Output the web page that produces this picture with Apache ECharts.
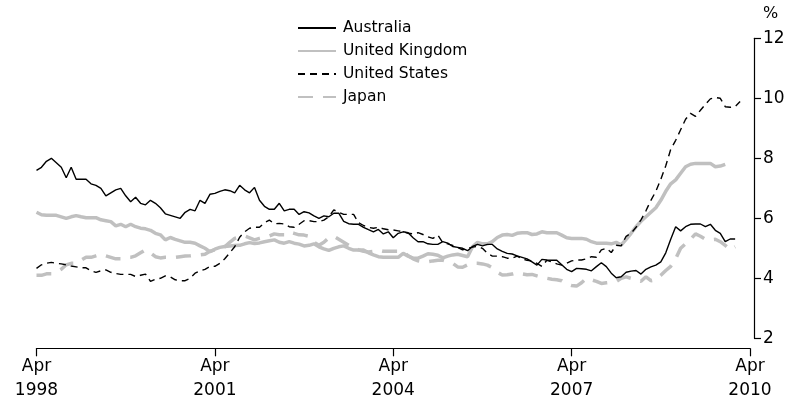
<!DOCTYPE html>
<html>
<head>
<meta charset="utf-8">
<script src="https://cdn.jsdelivr.net/npm/echarts@6/dist/echarts.min.js"></script>
<style>
  html, body { margin: 0; padding: 0; background: #fff; }
  #chart { width: 796px; height: 407px; }
</style>
</head>
<body>
<div id="chart"></div>
<script>
// Monthly unemployment rates (%), first value = April 1998
const australia = [
  7.6, 7.7, 7.9, 8.0, 7.85, 7.7, 7.35, 7.7, 7.3, 7.3, 7.3, 7.15, 7.1, 7.0, 6.75, 6.85,
  6.95, 7.0, 6.75, 6.55, 6.7, 6.5, 6.45, 6.6, 6.5, 6.35, 6.15, 6.1, 6.05, 6.0, 6.2, 6.3,
  6.25, 6.6, 6.5, 6.8, 6.83, 6.9, 6.95, 6.92, 6.85, 7.1, 6.95, 6.85, 7.03, 6.6, 6.4, 6.3,
  6.3, 6.5, 6.25, 6.3, 6.3, 6.13, 6.22, 6.18, 6.08, 6.0, 6.08, 6.05, 6.17, 6.17, 5.9, 5.82,
  5.8, 5.8, 5.7, 5.62, 5.55, 5.63, 5.48, 5.55, 5.35, 5.5, 5.55, 5.52, 5.35, 5.22, 5.22, 5.15,
  5.13, 5.13, 5.22, 5.17, 5.06, 5.03, 5.0, 4.92, 5.06, 5.13, 5.08, 5.13, 5.13, 4.98, 4.9, 4.83,
  4.81, 4.75, 4.7, 4.65, 4.55, 4.44, 4.63, 4.61, 4.6, 4.6, 4.45, 4.3, 4.22, 4.33, 4.32, 4.3,
  4.25, 4.39, 4.52, 4.39, 4.17, 4.02, 4.05, 4.2, 4.24, 4.26, 4.14, 4.3, 4.38, 4.44, 4.55, 4.85,
  5.3, 5.72, 5.58, 5.72, 5.8, 5.81, 5.81, 5.72, 5.8, 5.6, 5.5, 5.22, 5.31, 5.31
];
const unitedKingdom = [
  6.2, 6.12, 6.1, 6.1, 6.1, 6.05, 6.0, 6.05, 6.09, 6.05, 6.02, 6.02, 6.02, 5.95, 5.92, 5.89,
  5.75, 5.8, 5.72, 5.8, 5.72, 5.67, 5.65, 5.6, 5.5, 5.45, 5.28, 5.36, 5.3, 5.25, 5.2, 5.2,
  5.17, 5.08, 5.0, 4.89, 4.97, 5.03, 5.06, 5.08, 5.09, 5.1, 5.15, 5.19, 5.16, 5.18, 5.22, 5.25,
  5.28, 5.2, 5.17, 5.22, 5.17, 5.14, 5.08, 5.1, 5.15, 5.05, 4.98, 4.93, 5.0, 5.05, 5.08, 5.0,
  4.94, 4.94, 4.94, 4.85, 4.78, 4.72, 4.7, 4.7, 4.7, 4.7, 4.83, 4.74, 4.67, 4.67, 4.74, 4.82,
  4.8, 4.77, 4.68, 4.74, 4.78, 4.8, 4.76, 4.72, 5.05, 5.2, 5.15, 5.15, 5.22, 5.36, 5.44, 5.46,
  5.43, 5.5, 5.52, 5.52, 5.46, 5.48, 5.55, 5.52, 5.52, 5.52, 5.44, 5.35, 5.33, 5.33, 5.33, 5.3,
  5.22, 5.17, 5.17, 5.17, 5.15, 5.2, 5.11, 5.3, 5.5, 5.72, 5.9, 6.05, 6.2, 6.35, 6.6, 6.9,
  7.15, 7.28, 7.5, 7.72, 7.8, 7.83, 7.83, 7.83, 7.83, 7.72, 7.74, 7.8
];
const unitedStates = [
  4.33, 4.45, 4.5, 4.53, 4.5, 4.48, 4.45, 4.41, 4.38, 4.35, 4.35, 4.25, 4.2, 4.25, 4.28, 4.2,
  4.16, 4.13, 4.13, 4.13, 4.06, 4.1, 4.14, 3.9, 3.97, 4.0, 4.08, 4.05, 3.95, 3.92, 3.92, 4.0,
  4.17, 4.25, 4.3, 4.39, 4.4, 4.5, 4.65, 4.85, 5.05, 5.37, 5.55, 5.67, 5.7, 5.7, 5.85, 5.94,
  5.82, 5.83, 5.81, 5.72, 5.7, 5.8, 5.92, 5.92, 5.89, 5.89, 5.94, 6.05, 6.28, 6.2, 6.13, 6.13,
  6.13, 5.85, 5.76, 5.7, 5.67, 5.7, 5.65, 5.62, 5.61, 5.58, 5.55, 5.5, 5.48, 5.52, 5.46, 5.38,
  5.33, 5.44, 5.19, 5.15, 5.1, 5.03, 4.95, 5.0, 5.04, 5.06, 5.0, 4.83, 4.74, 4.74, 4.72, 4.67,
  4.67, 4.74, 4.65, 4.6, 4.58, 4.5, 4.4, 4.6, 4.55, 4.48, 4.44, 4.5, 4.58, 4.61, 4.61, 4.65,
  4.72, 4.7, 4.95, 5.0, 4.86, 5.1, 5.08, 5.4, 5.5, 5.7, 5.95, 6.25, 6.6, 6.9, 7.3, 7.75,
  8.3, 8.6, 8.95, 9.3, 9.5, 9.4, 9.6, 9.8, 9.98, 10.03, 10.0, 9.72, 9.7, 9.72, 9.89
];
const japan = [
  4.1, 4.1, 4.15, 4.15, 4.2, 4.3, 4.45, 4.5, 4.5, 4.6, 4.7, 4.7, 4.75, 4.8, 4.75, 4.7,
  4.65, 4.65, 4.7, 4.7, 4.75, 4.85, 4.95, 4.85, 4.72, 4.68, 4.7, 4.7, 4.7, 4.72, 4.74, 4.75,
  4.78, 4.78, 4.8, 4.9, 4.95, 5.0, 5.05, 5.2, 5.33, 5.38, 5.41, 5.35, 5.28, 5.33, 5.37, 5.41,
  5.48, 5.45, 5.45, 5.55, 5.5, 5.45, 5.44, 5.4, 5.2, 5.1, 5.2, 5.35, 5.4, 5.3, 5.2, 5.1,
  5.0, 4.95, 4.9, 4.88, 4.9, 4.94, 4.9, 4.9, 4.9, 4.9, 4.89, 4.75, 4.65, 4.58, 4.55, 4.55,
  4.58, 4.6, 4.6, 4.55, 4.5, 4.38, 4.37, 4.45, 4.5, 4.5, 4.48, 4.44, 4.35, 4.2, 4.11, 4.12,
  4.14, 4.19, 4.15, 4.12, 4.13, 4.08, 4.03, 4.0, 3.97, 3.95, 3.92, 3.81, 3.76, 3.74, 3.85, 4.0,
  3.95, 3.9, 3.83, 3.85, 3.87, 3.89, 4.0, 4.05, 4.0, 3.95, 3.9, 4.05, 3.92, 3.95, 4.1, 4.26,
  4.4, 4.65, 5.0, 5.15, 5.3, 5.48, 5.4, 5.3, 5.28, 5.3, 5.22, 5.1, 4.95, 5.05
];

// x-axis: months since April 1998, labelled every three years
const tickMonths = [0, 36, 72, 108, 144];
const tickLabels = ['Apr\n1998', 'Apr\n2001', 'Apr\n2004', 'Apr\n2007', 'Apr\n2010'];
const yTicks = [2, 4, 6, 8, 10, 12];

const FONT = 'DejaVu Sans';
const GREY = '#c0c0c0';

const toPoints = arr => arr.map((v, i) => [i, v]);

const chart = echarts.init(document.getElementById('chart'), null, { renderer: 'canvas' });

chart.setOption({
  animation: false,
  backgroundColor: '#ffffff',
  textStyle: { fontFamily: FONT, color: '#000' },
  grid: { left: 36.5, right: 46, top: 38.3, bottom: 68.7, containLabel: false },
  legend: {
    orient: 'vertical',
    left: 292,
    top: 15,
    itemWidth: 38,
    itemHeight: 14,
    itemGap: 7,
    selectedMode: false,
    itemStyle: { opacity: 0 },
    textStyle: { fontFamily: FONT, fontSize: 15.5, color: '#000', padding: [0, 0, 0, 2] },
    data: ['Australia', 'United Kingdom', 'United States', 'Japan']
  },
  xAxis: {
    type: 'value',
    min: tickMonths[0],
    max: tickMonths[tickMonths.length - 1],
    interval: 36,
    offset: 10,
    splitLine: { show: false },
    axisLine: { show: true, onZero: false, lineStyle: { color: '#000', width: 1.2 } },
    axisTick: { show: true, length: 8, inside: false, lineStyle: { color: '#000', width: 1.2 } },
    axisLabel: {
      fontFamily: FONT,
      fontSize: 17,
      color: '#000',
      lineHeight: 24,
      margin: 6,
      formatter: v => tickLabels[tickMonths.indexOf(v)] || ''
    }
  },
  yAxis: {
    type: 'value',
    position: 'right',
    min: yTicks[0],
    max: yTicks[yTicks.length - 1],
    interval: 2,
    offset: 4,
    name: '%',
    nameLocation: 'end',
    nameGap: 16,
    nameTextStyle: { fontFamily: FONT, fontSize: 16, color: '#000', align: 'left', padding: [0, 0, 0, 9] },
    splitLine: { show: false },
    axisLine: { show: true, onZero: false, lineStyle: { color: '#000', width: 1.2 } },
    axisTick: { show: true, length: 7, inside: false, lineStyle: { color: '#000', width: 1.2 } },
    axisLabel: { fontFamily: FONT, fontSize: 17, color: '#000', margin: 9 }
  },
  series: [
    {
      name: 'Australia', type: 'line', symbol: 'none', z: 4,
      lineStyle: { color: '#000', width: 1.4 },
      itemStyle: { color: '#000' },
      data: toPoints(australia)
    },
    {
      name: 'United Kingdom', type: 'line', symbol: 'none', z: 2,
      lineStyle: { color: GREY, width: 3.5 },
      itemStyle: { color: GREY },
      data: toPoints(unitedKingdom)
    },
    {
      name: 'United States', type: 'line', symbol: 'none', z: 3,
      lineStyle: { color: '#000', width: 1.4, type: [7, 5] },
      itemStyle: { color: '#000' },
      data: toPoints(unitedStates)
    },
    {
      name: 'Japan', type: 'line', symbol: 'none', z: 1,
      lineStyle: { color: GREY, width: 3.5, type: [15, 10] },
      itemStyle: { color: GREY },
      data: toPoints(japan)
    }
  ]
});
</script>
</body>
</html>
